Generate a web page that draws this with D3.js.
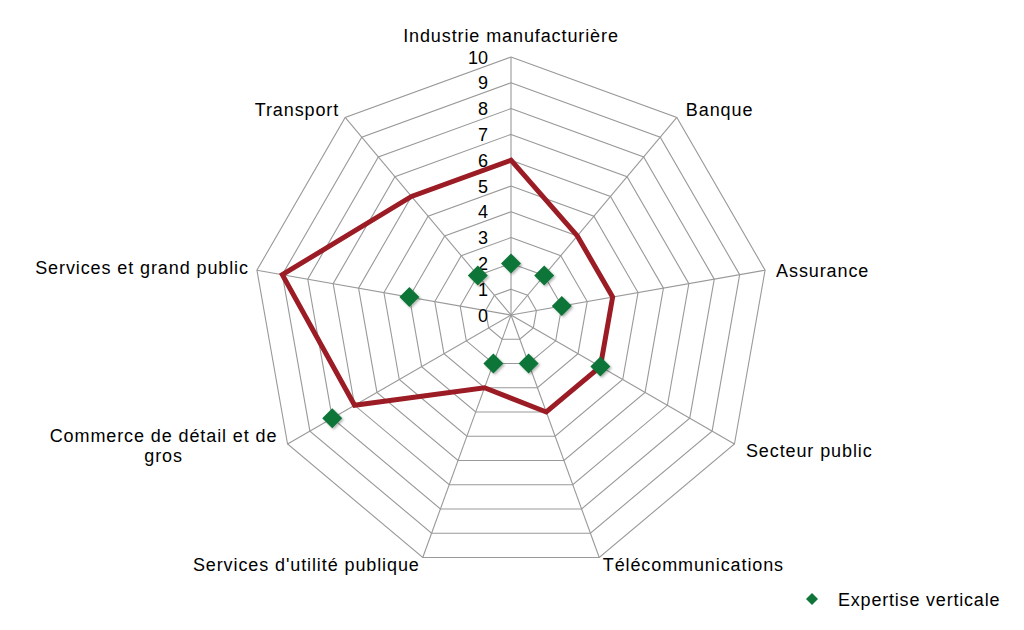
<!DOCTYPE html>
<html>
<head>
<meta charset="utf-8">
<script src="https://cdn.jsdelivr.net/npm/d3@7"></script>
<style>
  html, body { margin: 0; padding: 0; background: #fff; }
  svg { display: block; }
  text { font-family: "Liberation Sans", Arial, sans-serif; fill: #000; }
</style>
</head>
<body>
<svg id="chart" width="1024" height="630"></svg>
<script>
const categories = [
  "Industrie manufacturière",
  "Banque",
  "Assurance",
  "Secteur public",
  "Télécommunications",
  "Services d'utilité publique",
  ["Commerce de détail et de", "gros"],
  "Services et grand public",
  "Transport"
];
const serieLigne = [6, 4, 4, 4, 4, 3, 7, 9, 6];
const expertiseVerticale = [2, 2, 2, 4, 2, 2, 8, 4, 2];
const tickLabels = [0, 1, 2, 3, 4, 5, 6, 7, 8, 9, 10];
const legendLabel = "Expertise verticale";

const svg = d3.select("#chart");
const cx = 511, cy = 315, R = 258;
const n = categories.length;
const r = d3.scaleLinear().domain([0, 10]).range([0, R]);
const angle = d3.scaleLinear().domain([0, n]).range([0, 2 * Math.PI]);

function pt(i, v) {
  const a = angle(i);
  return [cx + r(v) * Math.sin(a), cy - r(v) * Math.cos(a)];
}

const defs = svg.append("defs");
const f = defs.append("filter").attr("id", "shadow").attr("x", "-50%").attr("y", "-50%").attr("width", "200%").attr("height", "200%");
f.append("feDropShadow").attr("dx", 1.5).attr("dy", 1.5).attr("stdDeviation", 1.2).attr("flood-color", "#000").attr("flood-opacity", 0.3);

const g = svg.append("g");

// grid rings
tickLabels.filter(t => t > 0).forEach(t => {
  const pts = d3.range(n).map(i => pt(i, t));
  g.append("path")
    .attr("d", d3.line()(pts) + "Z")
    .attr("fill", "none")
    .attr("stroke", "#999999")
    .attr("stroke-width", 1.1);
});
// spokes
d3.range(n).forEach(i => {
  const [x, y] = pt(i, 10);
  g.append("line").attr("x1", cx).attr("y1", cy).attr("x2", x).attr("y2", y)
    .attr("stroke", "#999999").attr("stroke-width", 1.1);
});

// tick labels
tickLabels.forEach(t => {
  g.append("text")
    .attr("x", cx - 23)
    .attr("y", cy - r(t) + 6.5)
    .attr("text-anchor", "end")
    .attr("font-size", 18)
    .text(t);
});

// red line
const linePts = serieLigne.map((v, i) => pt(i, v));
g.append("path")
  .attr("d", d3.line()(linePts) + "Z")
  .attr("fill", "none")
  .attr("stroke", "#9b1c24")
  .attr("stroke-width", 5)
  .attr("stroke-linejoin", "miter");

// diamonds
const diamond = s => `M0,${-s}L${s},0L0,${s}L${-s},0Z`;
expertiseVerticale.forEach((v, i) => {
  const [x, y] = pt(i, v);
  g.append("path")
    .attr("d", diamond(10))
    .attr("transform", `translate(${x},${y})`)
    .attr("fill", "#0f7538")
    .attr("filter", "url(#shadow)");
});

// category labels
const labelCfg = [
  {anchor: "middle", dx: 0, dy: -15},
  {anchor: "start", dx: 9, dy: -1.5},
  {anchor: "start", dx: 11, dy: 6.5},
  {anchor: "start", dx: 11.5, dy: 12.7},
  {anchor: "start", dx: 3.5, dy: 13.5},
  {anchor: "end", dx: -3, dy: 13.5},
  {anchor: "middle", dx: -124, dy: -2.5},
  {anchor: "end", dx: -8, dy: 3.5},
  {anchor: "end", dx: -6, dy: -1.5}
];
categories.forEach((c, i) => {
  const [x, y] = pt(i, 10);
  const cfg = labelCfg[i];
  const t = g.append("text")
    .attr("x", x + cfg.dx)
    .attr("y", y + cfg.dy)
    .attr("text-anchor", cfg.anchor)
    .attr("font-size", 18)
    .attr("letter-spacing", 0.9);
  const lines = Array.isArray(c) ? c : [c];
  lines.forEach((l, k) => {
    t.append("tspan").attr("x", x + cfg.dx).attr("dy", k === 0 ? 0 : 20).text(l);
  });
});

// legend
const lg = svg.append("g").attr("transform", "translate(812,599)");
lg.append("path").attr("d", diamond(6)).attr("fill", "#0f7538");
lg.append("text").attr("x", 26).attr("y", 6.5).attr("font-size", 18).attr("letter-spacing", 0.8).text(legendLabel);
</script>
</body>
</html>
